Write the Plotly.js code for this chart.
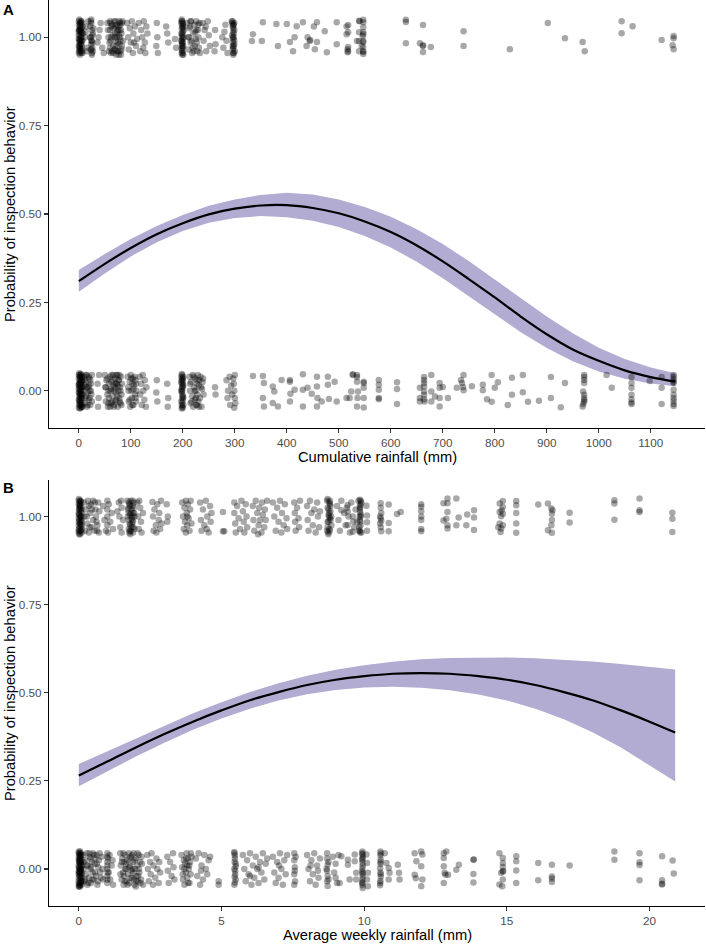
<!DOCTYPE html>
<html>
<head>
<meta charset="utf-8">
<script src="https://cdn.plot.ly/plotly-3.0.1.min.js"></script>
<style>html,body{margin:0;padding:0;background:#fff;}#chart{width:706px;height:944px;}</style>
</head>
<body>
<div id="chart"></div>
<script>
// ---------- Panel A: cumulative rainfall (mm) ----------
const curveAx = [0,50,100,150,200,250,300,350,400,450,500,550,600,650,700,750,800,850,900,950,1000,1050,1100,1147];
const fitA    = [0.310,0.359,0.404,0.443,0.474,0.499,0.515,0.524,0.525,0.517,0.502,0.479,0.449,0.411,0.366,0.316,0.264,0.210,0.160,0.117,0.085,0.058,0.039,0.026];
const lowA    = [0.280,0.332,0.380,0.420,0.452,0.475,0.489,0.494,0.491,0.481,0.463,0.438,0.405,0.365,0.318,0.268,0.216,0.166,0.121,0.084,0.055,0.034,0.021,0.013];
const highA   = [0.342,0.387,0.429,0.466,0.497,0.523,0.541,0.554,0.560,0.555,0.541,0.520,0.492,0.457,0.415,0.367,0.315,0.262,0.210,0.163,0.122,0.090,0.066,0.050];
const xTicksA = [0,100,200,300,400,500,600,700,800,900,1000,1100];

// observed (jittered) points, inspection = 1
const ptsA1 = [
[0,1.045],[2,1.03],[4,1.01],[1,0.995],[3,0.98],[5,0.965],[0,0.955],[6,1.04],[2,1.02],[4,1.0],[1,0.985],[3,0.97],[7,0.955],[0,1.035],[5,1.015],[2,0.99],[6,0.975],[1,0.96],[4,1.045],[3,1.025],[0,1.005],[7,0.99],[2,0.95],[5,1.0],[1,1.02],[6,0.96],[3,1.04],[0,0.975],[4,0.99],[8,1.01],
[1,1.05],[3,1.035],[5,1.025],[0,1.015],[2,1.005],[4,0.98],[6,0.99],[1,0.975],[3,0.96],[5,0.955],[0,0.995],[2,1.04],[4,1.02],[6,1.01],[7,1.03],[1,0.965],[3,0.99],[5,1.045],[0,1.02],[2,0.97],
[14,1.03],[16,0.97],[12,1.0],[18,1.045],[15,0.96],[13,1.015],
[24,1.04],[25,1.02],[23,1.0],[26,0.985],[24,0.965],[25,0.95],[22,1.03],[27,1.01],[24,0.99],[26,0.97],[23,1.045],[25,0.955],[28,1.025],[24,0.98],
[24,1.05],[26,1.005],[23,0.965],[25,0.99],[27,0.96],[22,1.0],
[38,1.0],[42,1.04],[45,0.97],[40,1.02],[48,0.955],[36,0.985],
[55,1.04],[57,1.0],[58,0.96],[60,1.045],[60,1.02],[61,0.99],[60,0.97],[62,0.955],[63,1.03],[65,1.005],[66,0.975],[68,1.045],[70,1.03],[70,1.01],[71,0.99],[70,0.965],[72,0.95],[73,1.035],[74,1.015],[75,0.985],[76,0.96],[78,1.045],[78,1.02],[79,1.0],[78,0.98],[80,0.96],[80,1.035],[82,1.01],[83,0.975],[84,1.045],[85,0.99],[67,1.025],[64,0.96],[77,1.005],[81,0.95],
[56,1.02],[59,0.985],[61,1.04],[62,1.0],[64,1.035],[66,0.955],[69,1.0],[71,1.045],[72,0.975],[73,1.0],[74,0.96],[76,1.03],[77,0.95],[79,1.04],[80,0.99],[81,1.02],[82,0.965],[83,1.04],[75,1.02],[69,0.965],
[93,1.04],[95,1.0],[96,0.965],[98,1.025],[100,0.985],[102,1.045],[104,0.955],[105,1.01],[108,1.03],[110,0.975],[112,0.995],[115,1.04],[118,0.96],[120,1.02],[122,1.0],[124,0.97],[125,1.045],[127,0.985],[128,0.955],[130,1.03],[132,1.01],[106,0.985],
[150,1.04],[151,1.0],[149,0.975],[152,0.955],[168,1.03],[170,1.01],[172,0.985],[185,0.995],[187,0.97],
[198,1.045],[199,1.03],[200,1.015],[198,1.0],[199,0.985],[200,0.97],[198,0.955],[197,1.04],[200,1.025],[199,1.005],[198,0.99],[201,0.975],[199,0.96],[200,1.035],[197,1.01],[198,0.98],[201,0.95],[199,1.045],[200,0.995],[198,0.965],[202,1.02],
[198,1.025],[199,1.01],[200,0.985],[201,1.0],[198,0.97],[199,0.95],[200,1.04],[197,0.99],[201,1.03],[199,0.975],[200,0.955],[198,1.05],
[208,1.04],[210,1.0],[211,0.965],[213,1.025],[215,0.985],[216,1.045],[218,0.955],[220,1.01],[222,1.035],[223,0.975],[225,0.995],[226,1.045],[228,0.96],[229,1.02],[230,1.0],[231,0.97],[232,1.04],[227,0.985],[224,1.015],[219,0.97],[214,1.03],[233,0.955],
[212,1.0],[217,0.99],[221,0.96],[226,1.02],[230,1.035],[215,1.045],
[238,1.04],[240,0.99],[242,1.02],[245,0.96],[248,1.045],[250,1.005],[252,0.975],[244,1.03],
[262,1.02],[263,0.98],[261,0.96],[276,1.0],[278,0.97],[282,1.035],[284,0.99],[286,0.955],[280,1.015],
[294,1.045],[296,1.03],[297,1.015],[298,1.0],[296,0.985],[297,0.97],[298,0.955],[295,1.04],[299,1.02],[297,0.995],[296,0.975],[300,0.96],[298,1.035],[295,1.005],[299,0.98],[297,0.95],
[296,1.045],[297,1.025],[298,1.01],[299,0.99],[296,0.965],[297,0.955],[298,0.975],[299,1.04],[296,1.0],[297,1.035],
[335,1.008],[354,1.042],[333,0.989],[352,0.989],[380,1.037],[383,0.975],[400,1.037],[406,0.986],[412,0.96],[419,1.031],[415,1.0],[431,1.042],[440,1.0],[444,0.989],[445,0.992],[438,0.975],[452,1.03],[458,1.042],[454,0.966],[458,0.986],[473,1.017],[477,0.957],[496,1.042],[496,0.98],[515,1.03],[515,1.008],[517,0.966],[517,0.957],[535,0.989],[540,1.045],[544,0.975],[546,1.003],
[547,1.049],[547,1.042],[547,1.028],[547,1.014],[547,1.008],[547,0.989],[547,0.986],[547,0.972],[547,0.96],[547,0.958],[547,0.952],[539,1.046],[539,1.014],[539,0.989],[539,0.96],[518,1.034],[518,1.014],[518,0.972],[518,0.96],
[629,1.049],[629,1.043],[629,0.983],[662,1.034],[656,0.983],[662,0.975],[662,0.977],[662,0.958],[677,0.972],[740,1.017],[740,0.975],[829,0.966],[902,1.04],[935,0.997],[969,0.986],[973,0.96],[1044,1.045],[1044,1.011],[1065,1.031],[1121,0.992],[1144,1.003],[1144,0.997],[1142,0.977],[1144,0.966]
];

// observed (jittered) points, inspection = 0
const ptsA0 = [
[0,0.045],[2,0.03],[4,0.01],[1,-0.005],[3,-0.02],[5,-0.035],[0,-0.048],[6,0.04],[2,0.02],[4,0.0],[1,-0.015],[3,-0.03],[7,-0.045],[0,0.035],[5,0.015],[2,-0.01],[6,-0.025],[1,-0.04],[4,0.048],[3,0.025],[0,0.005],[7,-0.01],[2,-0.05],[5,0.0],[1,0.02],[6,-0.04],[3,0.04],[0,-0.025],[4,-0.01],[8,0.01],[2,0.045],[5,-0.045],
[1,0.05],[3,0.035],[5,0.025],[0,0.015],[2,0.005],[4,-0.02],[6,-0.01],[1,-0.025],[3,-0.04],[5,-0.045],[0,-0.005],[2,0.04],[4,0.02],[6,0.01],[7,0.03],[1,-0.035],[3,-0.01],[5,0.045],[0,0.02],[2,-0.03],[4,-0.048],[6,0.03],[1,0.01],[3,0.0],[5,-0.02],
[10,0.04],[11,0.0],[12,-0.035],[13,0.025],[14,-0.015],[15,0.045],[16,-0.045],[18,0.01],[19,-0.025],[20,0.035],[21,0.0],[22,-0.04],[23,0.02],[24,-0.01],[25,0.045],[17,-0.005],[12,0.015],[22,0.03],
[11,0.03],[13,-0.02],[15,0.01],[17,-0.04],[19,0.04],[21,-0.02],[23,0.0],[25,-0.03],[20,0.015],[14,0.045],
[36,0.02],[38,-0.02],[37,-0.045],[39,0.045],
[50,0.045],[51,0.01],[52,-0.03],[53,0.03],[55,-0.01],[56,-0.045],[58,0.02],[60,0.04],[61,0.0],[62,-0.035],[63,0.025],[65,-0.015],[66,0.045],[68,-0.04],[69,0.01],[70,0.035],[71,-0.005],[72,-0.025],[73,0.02],[74,0.045],[75,-0.045],[76,0.0],[77,0.03],[78,-0.02],[79,0.01],[80,-0.035],[81,0.04],[82,-0.01],[83,0.02],[57,0.0],[64,-0.03],[67,0.015],
[52,0.01],[55,0.035],[58,-0.02],[60,-0.045],[62,0.005],[65,0.03],[68,0.0],[70,-0.03],[72,0.045],[74,-0.015],[76,0.03],[78,0.045],[80,0.0],[82,-0.04],[71,0.02],[75,0.015],[79,-0.03],[67,-0.045],[63,0.045],[57,-0.035],
[94,0.04],[95,0.01],[96,-0.03],[98,0.025],[99,-0.045],[100,0.045],[101,0.0],[102,-0.02],[104,0.035],[105,-0.04],[106,0.015],[108,-0.01],[109,0.03],[110,-0.03],[111,0.0],[103,0.02],
[96,0.0],[98,-0.025],[101,0.035],[103,-0.04],[105,0.005],[107,0.04],[109,-0.02],[110,0.02],
[117,0.04],[118,-0.01],[120,0.02],[121,-0.04],[123,0.045],[124,0.0],[126,-0.025],[127,0.03],[129,-0.045],[130,0.01],
[150,0.03],[149,-0.005],[151,-0.03],[170,0.02],[172,-0.02],[171,-0.045],
[198,0.048],[199,0.035],[200,0.02],[198,0.005],[199,-0.01],[200,-0.025],[198,-0.04],[197,0.04],[200,0.028],[199,0.012],[198,-0.003],[201,-0.018],[199,-0.033],[200,-0.048],[197,0.0],[198,0.03],[201,0.015],[199,-0.045],
[198,0.02],[199,0.0],[200,-0.015],[197,-0.03],[201,0.04],[198,-0.05],[200,0.01],[199,0.045],[197,0.025],[201,-0.04],[199,-0.02],[200,0.035],
[213,0.04],[214,0.0],[215,-0.035],[216,0.025],[218,-0.015],[219,0.045],[220,-0.045],[222,0.01],[223,-0.025],[224,0.035],[225,0.0],[226,-0.04],[227,0.02],[228,-0.01],[229,0.045],[230,-0.03],[231,0.015],[232,0.03],[233,-0.02],[234,0.04],[236,-0.045],[237,0.005],[238,0.025],[240,-0.01],
[214,0.02],[217,-0.03],[221,0.04],[225,-0.02],[228,0.03],[231,-0.045],[235,0.01],[239,0.035],[223,0.0],[227,-0.04],
[262,0.01],[263,-0.01],
[284,0.03],[286,-0.02],[287,0.0],[290,0.04],[291,-0.04],[293,0.015],[295,-0.01],[297,0.035],[298,0.02],[299,0.0],[300,-0.02],[301,-0.035],[300,0.045],[299,-0.048],
[335,0.042],[354,0.042],[356,0.022],[354,-0.02],[356,-0.044],[373,0.012],[376,-0.002],[390,0.031],[373,-0.034],[383,-0.044],[406,0.031],[406,0.026],[407,-0.008],[406,-0.03],[415,0.003],[431,0.047],[431,0.003],[431,-0.044],[440,0.009],[448,-0.008],[458,0.04],[458,0.012],[459,-0.02],[458,-0.044],[467,-0.03],[479,0.04],[479,0.017],[481,-0.023],[492,0.026],[496,-0.03],[521,-0.02],[527,0.047],[537,-0.002],
[515,-0.02],[524,-0.002],[527,0.045],[535,0.045],[535,0.039],[535,0.026],[536,-0.02],[535,-0.044],[548,0.026],[548,0.022],[548,0.009],[548,-0.02],[548,-0.047],
[577,0.031],[577,0.017],[577,0.003],[577,-0.02],[577,-0.024],[612,0.024],[612,0.005],[612,-0.037],
[656,0.009],[656,-0.02],[656,-0.03],[664,0.039],[664,0.031],[664,0.022],[664,0.012],[664,-0.002],[664,-0.011],[664,-0.024],[665,-0.03],
[678,0.045],[678,-0.002],[678,-0.03],[685,-0.016],[694,0.022],[694,0.009],[694,-0.02],[694,-0.044],[700,0.011],[710,-0.02],[727,0.009],[735,0.031],[737,0.022],[739,0.011],[740,0.002],[740,0.045],[756,0.013],
[777,0.017],[777,0.002],[785,-0.024],[794,0.045],[800,0.009],[794,-0.031],[806,0.024],[825,-0.04],[833,0.037],[833,-0.011],[854,0.045],[854,-0.004],[864,-0.031],[885,-0.028],[908,0.039],[908,-0.02],[927,-0.046],[935,0.022],
[972,0.045],[972,0.039],[972,0.031],[972,0.022],[970,-0.002],[972,-0.011],[972,-0.02],[972,-0.026],[972,-0.031],[970,-0.037],[969,-0.044],
[1015,0.045],[1025,0.009],[1063,0.039],[1063,0.022],[1063,0.009],[1063,-0.011],[1063,-0.024],[1063,-0.033],[1063,-0.037],[1098,0.028],[1121,0.039],[1121,0.009],[1121,-0.037],
[1144,0.045],[1144,0.039],[1144,0.032],[1144,0.026],[1144,0.022],[1144,0.003],[1144,-0.011],[1144,-0.02],[1144,-0.028],[1144,-0.037],[1144,-0.043]
];

// ---------- Panel B: average weekly rainfall (mm) ----------
const curveBx = [0,1,2,3,4,5,6,7,8,9,10,11,12,13,14,15,16,17,18,19,20,20.9];
const fitB    = [0.265,0.305,0.345,0.383,0.418,0.450,0.479,0.502,0.522,0.537,0.547,0.554,0.556,0.554,0.547,0.537,0.522,0.502,0.479,0.450,0.418,0.387];
const lowB    = [0.235,0.277,0.319,0.358,0.395,0.427,0.455,0.478,0.496,0.508,0.515,0.517,0.514,0.507,0.495,0.478,0.455,0.425,0.388,0.345,0.295,0.248];
const highB   = [0.298,0.334,0.372,0.408,0.442,0.473,0.502,0.527,0.548,0.565,0.578,0.588,0.595,0.599,0.600,0.600,0.598,0.594,0.589,0.582,0.573,0.566];
const xTicksB = [0,5,10,15,20];

const ptsB1 = [
[0,1.045],[0.05,1.03],[0.1,1.01],[0,0.995],[0.05,0.98],[0.1,0.965],[0,0.955],[0.08,1.04],[0.02,1.02],[0.06,1.0],[0,0.985],[0.04,0.97],[0.1,0.955],[0,1.035],[0.06,1.015],[0.02,0.99],[0.08,0.975],[0,0.96],[0.05,1.045],[0.03,1.025],[0,1.005],[0.09,0.99],[0.02,0.95],[0.06,1.0],[0.01,1.02],[0.07,0.96],[0.03,1.04],[0,0.975],
[0,1.05],[0.04,1.035],[0.08,1.02],[0.02,1.005],[0.06,0.99],[0.1,0.975],[0,0.965],[0.04,0.95],[0.08,1.0],[0.02,1.03],[0.06,1.045],[0.1,0.985],[0,1.01],[0.05,0.96],[0.09,1.025],[0.03,0.98],
[0.18,1.04],[0.2,1.0],[0.22,0.96],[0.25,1.02],[0.3,0.98],[0.32,1.045],[0.35,0.955],[0.4,1.01],[0.42,1.035],[0.45,0.97],[0.5,0.99],[0.5,1.045],[0.55,0.96],[0.58,1.02],[0.6,1.0],[0.65,0.975],[0.68,1.04],[0.7,0.955],[0.72,1.015],[0.62,0.985],
[0.28,1.0],[0.38,0.97],[0.46,1.02],[0.56,1.04],[0.64,0.96],[0.36,1.03],
[0.85,1.03],[0.9,0.99],[0.95,0.96],[1.0,1.045],[1.0,1.02],[1.0,1.0],[1.0,0.975],[1.02,0.955],[1.05,1.035],[1.1,0.985],[1.15,1.01],[1.2,0.965],
[1.4,1.04],[1.42,1.0],[1.45,0.97],[1.5,1.025],[1.5,0.955],[1.55,0.99],[1.35,1.015],[1.48,1.045],
[1.7,1.045],[1.72,1.02],[1.75,0.99],[1.75,0.965],[1.78,1.035],[1.8,1.005],[1.8,0.975],[1.8,0.95],[1.82,1.045],[1.85,1.02],[1.85,0.995],[1.85,0.97],[1.88,1.03],[1.9,1.01],[1.9,0.985],[1.9,0.955],[1.92,1.04],[1.95,1.0],[1.95,0.965],[1.75,1.01],[1.82,0.96],[1.87,1.0],[1.78,0.98],[1.93,1.025],
[1.72,1.0],[1.76,1.04],[1.79,0.96],[1.83,1.01],[1.86,0.98],[1.89,1.045],[1.91,0.97],[1.94,1.01],[1.8,1.03],[1.77,0.955],[1.88,0.99],[1.74,1.025],
[2.05,1.04],[2.08,1.0],[2.1,0.965],[2.15,1.025],[2.18,0.985],[2.2,0.955],[2.25,1.01],[2.12,1.045],
[2.58,1.041],[2.6,1.0],[2.62,0.96],[2.65,1.02],[2.7,0.975],[2.72,0.955],[2.75,1.035],[2.8,0.99],[2.82,1.01],[2.85,0.965],[2.88,1.045],[2.9,0.98],
[3.08,1.035],[3.1,0.985],[3.12,1.0],
[3.62,1.04],[3.65,1.0],[3.68,0.965],[3.7,1.025],[3.72,0.985],[3.75,1.045],[3.75,0.955],[3.78,1.01],[3.8,0.975],[3.82,1.035],[3.85,0.995],[3.88,0.96],[3.9,1.02],[3.92,1.045],[3.95,0.98],[3.8,1.0],
[4.25,1.04],[4.28,0.99],[4.3,0.96],[4.35,1.02],[4.4,0.975],[4.45,1.045],[4.5,1.0],[4.55,0.955],[4.6,1.03],[4.62,0.985],[4.65,1.01],[4.48,0.965],
[5.05,1.013],[5.05,0.958],[5.1,0.958],
[5.45,1.04],[5.45,1.01],[5.48,0.98],[5.5,0.955],[5.55,1.03],[5.6,0.995],[5.65,0.965],[5.7,1.045],[5.75,1.015],[5.78,0.985],[5.8,0.955],[5.85,1.035],[5.88,1.0],[5.9,0.97],
[6.1,1.03],[6.12,0.99],[6.15,0.96],[6.2,1.045],[6.25,1.01],[6.3,0.975],[6.32,1.025],[6.35,0.99],[6.4,0.955],[6.42,1.04],[6.45,1.005],[6.5,0.97],[6.52,1.02],[6.55,0.99],[6.6,1.045],[6.28,0.95],
[6.8,1.04],[6.85,1.0],[6.9,0.96],[6.95,1.025],[7.0,0.985],[7.05,1.045],[7.1,0.955],[7.12,1.01],[7.18,0.975],[7.22,1.035],[7.28,0.995],[7.3,0.965],
[7.55,1.04],[7.57,1.01],[7.58,0.985],[7.6,0.96],[7.65,1.025],[7.7,0.995],[7.72,0.97],[7.75,1.045],
[8.0,1.03],[8.02,0.99],[8.05,0.96],[8.1,1.045],[8.15,1.01],[8.2,0.975],[8.25,1.02],[8.3,0.955],[8.35,1.04],[8.38,1.0],[8.42,0.97],[8.45,1.015],
[8.7,1.045],[8.72,1.025],[8.75,1.005],[8.72,0.985],[8.78,0.965],[8.75,0.95],[8.8,1.035],[8.82,1.015],[8.8,0.995],[8.85,0.975],[8.7,0.96],[8.78,1.04],[8.75,1.02],[8.82,0.99],[8.85,1.0],[8.72,0.97],
[8.72,1.05],[8.75,0.985],[8.78,1.01],[8.8,0.96],[8.82,1.03],[8.74,0.955],[8.77,1.0],[8.8,1.045],
[9.05,1.03],[9.1,0.99],[9.15,0.96],[9.2,1.045],[9.3,1.01],[9.35,0.975],[9.4,1.025],[9.5,0.955],[9.55,1.04],[9.6,1.0],[9.65,0.97],[9.7,1.02],[9.75,0.985],[9.8,1.045],[9.82,0.96],[9.45,1.0],
[9.85,1.048],[9.87,1.035],[9.85,1.02],[9.88,1.005],[9.85,0.99],[9.87,0.975],[9.85,0.96],[9.9,1.04],[9.88,1.0],[9.83,0.97],[9.9,0.955],[9.86,1.012],
[9.85,1.03],[9.87,0.985],[9.86,0.955],[9.88,1.045],[9.84,1.0],[9.86,1.025],
[9.42,1.033],[9.42,1.014],[9.42,0.976],[9.6,0.957],[9.62,0.986],[10.08,1.031],[10.1,1.003],[10.1,0.984],[10.1,0.96],[9.2,1.018],
[10.58,1.038],[10.58,1.025],[10.6,1.01],[10.58,0.995],[10.56,0.98],[10.58,0.97],[10.6,0.958],[10.56,1.0],[10.6,0.988],
[10.86,1.034],[10.86,0.982],[10.86,0.958],[11.15,1.007],[11.28,1.013],
[12.0,1.035],[12.0,1.028],[12.0,1.0],[12.0,0.99],[12.0,0.965],[12.0,0.958],[12.0,1.015],
[12.78,1.038],[12.92,1.051],[12.92,1.038],[12.92,1.013],[12.78,0.989],[12.92,0.975],[12.92,0.966],[12.88,0.994],
[13.23,1.051],[13.23,0.975],[13.31,0.997],[13.61,1.006],[13.58,0.975],[13.85,1.018],[13.85,0.997],[13.85,0.962],
[14.86,1.044],[14.75,1.037],[14.86,1.027],[14.82,1.018],[14.75,1.013],[14.86,1.008],[14.8,1.001],[14.75,0.98],[14.86,0.975],[14.8,0.966],[14.78,0.956],[14.7,0.97],
[15.33,1.044],[15.33,1.032],[15.33,1.01],[15.33,0.98],[15.33,0.954],
[16.1,1.034],[16.44,1.037],[16.56,1.023],[16.6,1.018],[16.58,1.008],[16.58,0.99],[16.56,0.975],[16.44,0.961],[16.58,0.954],
[17.2,1.011],[17.2,0.983],[18.77,1.046],[18.77,1.037],[18.77,0.991],[19.65,1.051],[19.65,1.018],[19.65,1.013],[20.8,1.011],[20.8,0.994],[20.8,0.956]
];

const ptsB0 = [
[0,0.045],[0.05,0.03],[0.1,0.01],[0,-0.005],[0.05,-0.02],[0.1,-0.035],[0,-0.05],[0.08,0.04],[0.02,0.02],[0.06,0.0],[0,-0.015],[0.04,-0.03],[0.1,-0.045],[0,0.035],[0.06,0.015],[0.02,-0.01],[0.08,-0.025],[0,-0.04],[0.05,0.05],[0.03,0.025],[0,0.005],[0.09,-0.01],[0.02,-0.05],[0.06,0.0],[0.01,0.02],[0.07,-0.04],[0.03,0.04],[0,-0.025],[0.04,-0.01],[0.1,0.01],[0.02,0.045],[0.05,-0.045],
[0,0.05],[0.04,0.035],[0.08,0.02],[0.02,0.005],[0.06,-0.01],[0.1,-0.025],[0,-0.035],[0.04,-0.05],[0.08,0.0],[0.02,0.03],[0.06,0.045],[0.1,-0.015],[0,0.01],[0.05,-0.04],[0.09,0.025],[0.03,-0.02],[0,0.025],[0.07,0.04],[0.01,-0.045],[0.05,0.015],[0.09,-0.035],[0.03,0.0],[0.07,-0.005],[0.0,-0.01],
[0.15,0.04],[0.18,0.0],[0.2,-0.035],[0.22,0.025],[0.25,-0.015],[0.28,0.045],[0.3,-0.045],[0.32,0.01],[0.35,-0.025],[0.38,0.035],[0.4,0.0],[0.42,-0.04],[0.45,0.02],[0.48,-0.01],[0.5,0.045],[0.52,-0.03],[0.55,0.015],[0.58,0.03],[0.6,-0.02],[0.62,0.04],[0.65,-0.045],[0.68,0.005],[0.7,0.025],[0.75,-0.01],[0.8,0.035],[0.85,-0.03],
[0.17,0.02],[0.22,-0.03],[0.27,0.01],[0.33,-0.04],[0.37,0.045],[0.43,0.005],[0.47,-0.03],[0.53,0.04],[0.57,-0.01],[0.63,0.015],[0.67,-0.035],[0.73,0.045],[0.78,-0.025],[0.83,0.0],[0.41,0.03],
[1.0,0.045],[1.0,0.02],[1.0,0.0],[1.0,-0.02],[1.0,-0.04],[1.02,0.03],[1.05,-0.01],[1.08,0.04],[1.1,-0.03],[1.15,0.01],[1.2,-0.045],[1.18,0.025],
[1.0,0.035],[1.0,0.01],[1.0,-0.03],[1.01,-0.01],
[1.45,0.045],[1.47,0.01],[1.5,-0.03],[1.52,0.03],[1.55,-0.01],[1.57,-0.045],[1.6,0.02],[1.62,0.04],[1.65,0.0],[1.68,-0.035],[1.7,0.025],[1.72,-0.015],[1.75,0.045],[1.77,-0.04],[1.8,0.01],[1.82,0.035],[1.85,-0.005],[1.87,-0.025],[1.9,0.02],[1.92,0.045],[1.95,-0.045],[1.97,0.0],[2.0,0.03],[2.02,-0.02],[2.05,0.01],[2.07,-0.035],[2.1,0.04],[2.12,-0.01],[2.15,0.02],[2.18,-0.03],[2.2,0.035],[2.25,-0.045],[1.58,-0.02],[1.88,0.0],[2.0,-0.05],
[1.46,-0.015],[1.51,0.02],[1.56,0.045],[1.61,-0.035],[1.66,0.015],[1.71,-0.045],[1.76,0.005],[1.81,-0.025],[1.86,0.04],[1.91,-0.01],[1.96,0.025],[2.01,-0.035],[2.06,0.045],[2.11,0.0],[2.16,-0.04],[2.21,0.015],[1.78,0.03],[1.93,-0.03],[1.63,0.0],[2.08,-0.02],
[2.4,0.04],[2.42,0.0],[2.45,-0.035],[2.5,0.02],[2.52,-0.015],[2.55,0.045],[2.6,-0.045],[2.62,0.01],[2.68,-0.025],[2.72,0.03],[2.75,0.0],[2.8,-0.04],[2.82,0.02],[2.85,-0.01],
[3.1,0.035],[3.12,-0.005],[3.15,-0.04],[3.2,0.02],[3.25,-0.02],[3.3,0.045],[3.32,0.005],[3.35,-0.03],
[3.6,0.04],[3.62,0.005],[3.65,-0.03],[3.68,0.025],[3.7,-0.045],[3.72,0.015],[3.75,-0.01],[3.78,0.045],[3.8,-0.025],[3.82,0.03],[3.85,0.0],[3.88,-0.04],[3.9,0.02],[3.92,-0.015],[3.95,0.035],[3.8,0.01],
[3.7,0.0],[3.76,0.03],[3.83,-0.04],[3.87,0.01],[3.64,-0.015],[3.93,0.045],
[4.1,0.03],[4.15,-0.02],[4.2,0.045],[4.25,-0.045],[4.3,0.01],[4.35,-0.03],[4.4,0.04],[4.45,0.0],[4.5,-0.015],[4.55,0.025],[4.6,0.035],[4.28,-0.005],
[4.9,-0.035],[4.9,-0.045],
[5.45,0.045],[5.47,0.03],[5.5,0.015],[5.45,0.0],[5.48,-0.015],[5.5,-0.03],[5.45,-0.045],[5.47,0.038],[5.5,0.008],[5.46,-0.022],
[5.46,0.02],[5.48,-0.005],[5.47,-0.038],[5.45,0.048],
[5.75,0.04],[5.8,0.0],[5.85,-0.035],[5.9,0.025],[5.95,-0.015],[6.0,0.045],[6.05,-0.045],[6.1,0.01],[6.15,-0.025],[6.2,0.035],[6.25,0.0],[6.3,-0.04],[6.35,0.02],[6.4,-0.01],[6.45,0.045],[6.5,-0.03],[6.55,0.015],[6.6,0.03],[6.0,-0.02],[6.3,0.005],
[6.8,0.035],[6.85,-0.01],[6.9,-0.04],[6.95,0.02],[7.0,-0.025],[7.05,0.045],[7.1,0.0],[7.15,-0.045],[7.2,0.025],[7.25,-0.015],[7.3,0.04],[7.02,0.01],
[7.55,0.045],[7.55,0.025],[7.57,0.005],[7.55,-0.015],[7.58,-0.035],[7.55,-0.045],[7.6,0.035],[7.57,-0.005],
[8.0,0.04],[8.05,0.0],[8.1,-0.035],[8.15,0.025],[8.2,-0.015],[8.25,0.045],[8.3,-0.045],[8.35,0.01],[8.4,-0.025],[8.45,0.03],[8.12,0.01],[8.38,-0.005],
[8.7,0.045],[8.7,0.03],[8.72,0.012],[8.7,-0.005],[8.72,-0.02],[8.7,-0.035],[8.72,-0.048],[8.75,0.02],[8.68,0.0],[8.75,-0.03],
[8.9,0.035],[8.95,-0.01],[9.0,0.015],[9.05,-0.04],[9.1,0.04],[9.0,-0.025],
[9.14,-0.04],[9.2,0.036],[9.43,0.026],[9.43,0.012],[9.49,-0.03],[9.67,0.041],[9.67,0.022],[9.72,-0.011],[9.72,-0.03],[10.08,0.041],[10.1,0.017],[10.13,-0.011],[10.1,-0.03],[10.13,-0.049],
[9.94,0.05],[9.94,0.042],[9.95,0.034],[9.93,0.026],[9.94,0.018],[9.95,0.01],[9.94,0.002],[9.93,-0.006],[9.94,-0.014],[9.95,-0.022],[9.94,-0.03],[9.93,-0.038],[9.94,-0.046],[9.95,-0.054],
[9.94,0.03],[9.95,-0.01],[9.93,0.045],[9.94,-0.04],
[10.57,0.05],[10.57,0.038],[10.58,0.026],[10.57,0.014],[10.56,0.002],[10.57,-0.01],[10.58,-0.022],[10.57,-0.034],[10.56,-0.046],[10.58,0.044],
[10.57,0.02],[10.58,-0.015],[10.56,-0.04],
[10.72,0.045],[10.78,0.017],[10.86,0.003],[10.89,-0.011],[10.86,-0.03],
[11.18,0.012],[11.22,-0.011],[11.24,-0.03],
[11.77,0.045],[11.83,0.022],[11.77,-0.016],[11.81,-0.026],[12.0,0.05],[12.04,0.041],[12.0,0.008],[12.04,-0.03],[12.0,-0.049],
[12.79,0.045],[12.88,0.05],[12.79,0.031],[12.79,0.008],[12.82,-0.011],[12.85,-0.016],[12.79,-0.04],[12.94,-0.016],
[13.23,-0.002],[13.32,0.012],[13.83,0.026],[13.84,0.027],[13.83,-0.014],[13.83,-0.038],
[14.74,0.045],[14.86,0.031],[14.86,0.017],[14.86,0.006],[14.86,-0.007],[14.87,-0.006],[14.8,-0.011],[14.86,-0.03],[14.74,-0.044],[14.84,-0.049],
[15.33,0.036],[15.33,0.022],[15.33,-0.004],[15.33,-0.04],
[16.1,0.017],[16.1,-0.032],[16.58,0.012],[16.58,-0.021],[16.58,-0.027],[16.58,-0.037],[17.2,0.01],
[18.77,0.05],[18.77,0.026],[19.65,0.045],[19.65,0.019],[19.65,0.011],[19.65,-0.032],
[20.44,0.036],[20.44,-0.032],[20.44,-0.042],[20.44,-0.044],[20.81,0.024],[20.85,-0.013]
];

// ---------- labels ----------
const titleXA = 'Cumulative rainfall (mm)';
const titleXB = 'Average weekly rainfall (mm)';
const titleY  = 'Probability of inspection behavior';
const yTicks  = [0, 0.25, 0.5, 0.75, 1];
const yTickText = ['0.00','0.25','0.50','0.75','1.00'];

const FONT = 'Liberation Sans, Arial, Helvetica, sans-serif';
const RIBBON = '#B2ABD2';
const PT = 'rgba(0,0,0,0.34)';

function ribbon(x, lo, hi, xa, ya) {
  return [
    {x: x, y: lo, xaxis: xa, yaxis: ya, type: 'scatter', mode: 'lines', line: {width: 0, color: RIBBON}, hoverinfo: 'skip', showlegend: false},
    {x: x, y: hi, xaxis: xa, yaxis: ya, type: 'scatter', mode: 'lines', line: {width: 0, color: RIBBON}, fill: 'tonexty', fillcolor: RIBBON, hoverinfo: 'skip', showlegend: false}
  ];
}
function points(arr, xa, ya) {
  return {x: arr.map(p => p[0]), y: arr.map(p => p[1]), xaxis: xa, yaxis: ya, type: 'scatter', mode: 'markers',
    marker: {size: 6.5, color: PT, line: {width: 0}}, hoverinfo: 'skip', showlegend: false};
}
function fitLine(x, y, xa, ya) {
  return {x: x, y: y, xaxis: xa, yaxis: ya, type: 'scatter', mode: 'lines', line: {color: '#000000', width: 2.2, shape: 'spline'}, hoverinfo: 'skip', showlegend: false};
}

const data = [
  ...ribbon(curveAx, lowA, highA, 'x', 'y'),
  points(ptsA1, 'x', 'y'), points(ptsA0, 'x', 'y'),
  fitLine(curveAx, fitA, 'x', 'y'),
  ...ribbon(curveBx, lowB, highB, 'x2', 'y2'),
  points(ptsB1, 'x2', 'y2'), points(ptsB0, 'x2', 'y2'),
  fitLine(curveBx, fitB, 'x2', 'y2')
];

const axBase = {
  showline: true, linecolor: '#000000', linewidth: 1.1, mirror: false,
  showgrid: false, zeroline: false,
  ticks: 'outside', ticklen: 4, tickwidth: 1.1, tickcolor: '#333333',
  tickfont: {family: FONT, size: 11.7, color: '#4D4D4D'},
  fixedrange: true
};

const layout = {
  width: 706, height: 944,
  margin: {l: 49, r: 1, t: 0, b: 38, pad: 0},
  paper_bgcolor: '#ffffff', plot_bgcolor: '#ffffff',
  showlegend: false, hovermode: false,
  font: {family: FONT, color: '#4D4D4D'},
  xaxis:  Object.assign({}, axBase, {domain: [0, 1], anchor: 'y', range: [-57.35, 1204.35], tickvals: xTicksA, ticktext: xTicksA.map(String)}),
  yaxis:  Object.assign({}, axBase, {domain: [0.5276, 1], anchor: 'x', range: [-0.105, 1.105], tickvals: yTicks, ticktext: yTickText}),
  xaxis2: Object.assign({}, axBase, {domain: [0, 1], anchor: 'y2', range: [-1.045, 21.945], tickvals: xTicksB, ticktext: xTicksB.map(String)}),
  yaxis2: Object.assign({}, axBase, {domain: [0, 0.4707], anchor: 'x2', range: [-0.105, 1.105], tickvals: yTicks, ticktext: yTickText}),
  annotations: [
    {text: titleXA, xref: 'paper', yref: 'paper', x: 0.5, y: (906 - 457) / 906, xanchor: 'center', yanchor: 'middle', showarrow: false, font: {family: FONT, size: 14.7, color: '#000000'}},
    {text: titleXB, xref: 'paper', yref: 'paper', x: 0.5, y: (906 - 935) / 906, xanchor: 'center', yanchor: 'middle', showarrow: false, font: {family: FONT, size: 14.7, color: '#000000'}},
    {text: titleY, xref: 'paper', yref: 'paper', x: (10 - 49) / 656, y: (906 - 214) / 906, xanchor: 'center', yanchor: 'middle', textangle: -90, showarrow: false, font: {family: FONT, size: 14.7, color: '#000000'}},
    {text: titleY, xref: 'paper', yref: 'paper', x: (10 - 49) / 656, y: (906 - 693) / 906, xanchor: 'center', yanchor: 'middle', textangle: -90, showarrow: false, font: {family: FONT, size: 14.7, color: '#000000'}},
    {text: '<b>A</b>', xref: 'paper', yref: 'paper', x: (8.5 - 49) / 656, y: (906 - 10) / 906, xanchor: 'center', yanchor: 'middle', showarrow: false, font: {family: FONT, size: 15, color: '#000000'}},
    {text: '<b>B</b>', xref: 'paper', yref: 'paper', x: (8.5 - 49) / 656, y: (906 - 487.5) / 906, xanchor: 'center', yanchor: 'middle', showarrow: false, font: {family: FONT, size: 15, color: '#000000'}}
  ]
};

Plotly.newPlot('chart', data, layout, {staticPlot: true, displayModeBar: false});
</script>
</body>
</html>
